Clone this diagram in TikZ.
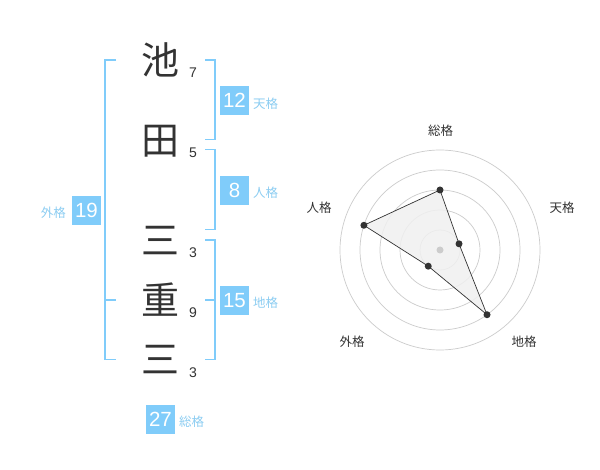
\documentclass[tikz,border=0pt]{standalone}
\usepackage{fontspec}
\setmainfont{Liberation Sans}
\newfontfamily\cjk{Noto Sans CJK JP}
\definecolor{skyb}{HTML}{80CCFA}
\definecolor{skyt}{HTML}{8CCDF2}
\definecolor{ink}{HTML}{333333}
\definecolor{ringc}{HTML}{CCCCCC}
\tikzset{
  bigchar/.style={inner sep=0pt, text=ink, font=\cjk\fontsize{38}{38}\selectfont},
  strokes/.style={inner sep=0pt, text=ink, font=\fontsize{14}{14}\selectfont},
  numbox/.style={fill=skyb, text=white, minimum width=29pt, minimum height=29pt, inner sep=0pt, font=\fontsize{20.5}{20.5}\selectfont},
  kakulabel/.style={inner sep=0pt, text=skyt, font=\cjk\fontsize{12.5}{12.5}\selectfont},
  bracket/.style={draw=skyb, line width=1.6pt},
  radarlabel/.style={inner sep=0pt, text=ink, font=\cjk\fontsize{12.5}{12.5}\selectfont},
  ring/.style={draw=ringc, line width=0.7pt},
  vdot/.style={circle, fill=ink, inner sep=0pt, minimum size=7pt},
}
\begin{document}
\begin{tikzpicture}[x=1pt,y=-1pt]
\useasboundingbox (0,0) rectangle (600,470);
\fill[white] (0,0) rectangle (600,470);
% characters
\node[bigchar] (c1) at (160,60) {池};
\node[bigchar] (c2) at (160,141) {田};
\node[bigchar] (c3) at (160,241) {三};
\node[bigchar] (c4) at (160,300) {重};
\node[bigchar] (c5) at (160,360) {三};
% stroke counts
\node[strokes] (s1) at (193,72.5) {7};
\node[strokes] (s2) at (193,152.5) {5};
\node[strokes] (s3) at (193,252.5) {3};
\node[strokes] (s4) at (193,312.5) {9};
\node[strokes] (s5) at (193,372.5) {3};
% brackets
\draw[bracket] (116,60) -- (105,60) -- (105,359.5) -- (116,359.5);
\draw[bracket] (105,300) -- (116,300);
\draw[bracket] (205,60) -- (215,60) -- (215,139.5) -- (205,139.5);
\draw[bracket] (205,149.5) -- (215,149.5) -- (215,229.5) -- (205,229.5);
\draw[bracket] (205,240) -- (215,240) -- (215,359.5) -- (205,359.5);
\draw[bracket] (205,300) -- (215,300);
% boxes
\node[numbox] (b12) at (234.5,100.5) {12};
\node[kakulabel, anchor=west] (l12) at (253,104) {天格};
\node[numbox] (b8) at (234.5,190.5) {8};
\node[kakulabel, anchor=west] (l8) at (253,193) {人格};
\node[numbox] (b15) at (234.5,300.5) {15};
\node[kakulabel, anchor=west] (l15) at (253,303) {地格};
\node[numbox] (b19) at (86.5,210.5) {19};
\node[kakulabel, anchor=east] (l19) at (66,213) {外格};
\node[numbox] (b27) at (160.5,419) {27};
\node[kakulabel, anchor=west] (l27) at (179,422) {総格};
% radar
\begin{scope}[shift={(440,250)}, yscale=-1]
  \foreach \r in {20,40,60,80,100} \draw[ring] (0,0) circle (\r);
  \coordinate (p1) at (90:60);
  \coordinate (p2) at (18:20);
  \coordinate (p3) at (-54:80);
  \coordinate (p4) at (-126:20);
  \coordinate (p5) at (162:80);
  \filldraw[fill=black!6, fill opacity=0.85, draw=ink, line width=0.7pt] (p1) -- (p2) -- (p3) -- (p4) -- (p5) -- cycle;
  \fill[ringc] (0,0) circle (3.5);
  \foreach \p in {p1,p2,p3,p4,p5} \node[vdot] at (\p) {};
\end{scope}
\node[radarlabel] (r1) at (440.7,130.5) {総格};
\node[radarlabel] (r2) at (562,208) {天格};
\node[radarlabel] (r3) at (524,342) {地格};
\node[radarlabel] (r4) at (352,342) {外格};
\node[radarlabel] (r5) at (319,208) {人格};
\end{tikzpicture}
\end{document}
